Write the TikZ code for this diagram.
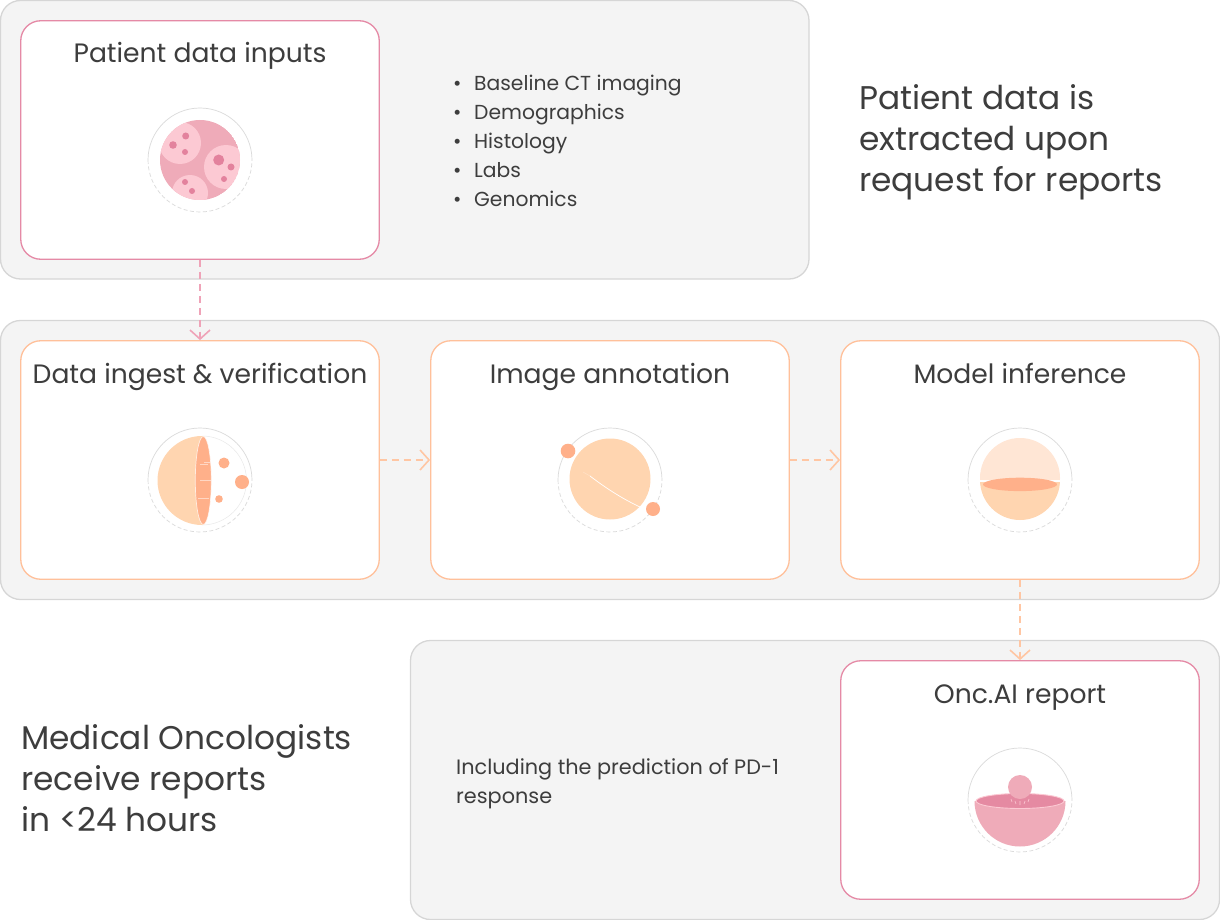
\documentclass[tikz,border=0pt]{standalone}
\usepackage{fontspec}
\setmainfont{Poppins}
\usetikzlibrary{arrows.meta}
\definecolor{panelfill}{HTML}{F4F4F4}
\definecolor{panelline}{HTML}{D6D6D6}
\definecolor{pinkline}{HTML}{E58AA6}
\definecolor{orangeline}{HTML}{FFC09A}
\definecolor{pinkarrow}{HTML}{EFA3B8}
\definecolor{orangearrow}{HTML}{FFC6A3}
\definecolor{ink}{HTML}{3D3D3D}
\definecolor{pinkmid}{HTML}{EFABB9}
\definecolor{pinklight}{HTML}{FCC9D3}
\definecolor{pinkdark}{HTML}{DF7594}
\definecolor{pinkrim}{HTML}{E58AA2}
\definecolor{orangepale}{HTML}{FFE6D5}
\definecolor{orangemid}{HTML}{FFD5B0}
\definecolor{orangedark}{HTML}{FFB08A}
\definecolor{ringline}{HTML}{DADADA}
\tikzset{
  x=1pt,y=-1pt,
  panel/.style={draw=panelline,fill=panelfill,line width=1.3pt,rounded corners=20pt},
  card/.style={draw,fill=white,line width=1.3pt,rounded corners=20pt,minimum width=358.5pt,minimum height=238.5pt,inner sep=0pt},
  pinkcard/.style={card,draw=pinkline},
  orangecard/.style={card,draw=orangeline},
  title/.style={text=ink,font=\fontsize{26.6}{30}\selectfont,inner sep=0pt,anchor=base},
  lead/.style={text=ink,font=\fontsize{32.8}{41}\selectfont,inner sep=0pt,anchor=north west,align=left},
  body/.style={text=ink,font=\fontsize{20.3}{29}\selectfont,inner sep=0pt,anchor=north west,align=left},
  bodywide/.style={body,font=\fontsize{20.8}{29}\selectfont},
  flow/.style={line width=1.5pt,dash pattern=on 7pt off 5pt,-{Straight Barb[length=9pt,width=20pt,line width=1.6pt]}},
}
\newcommand{\ringicon}[2]{%
  \fill[white] (#1,#2) circle[radius=52pt];
  \draw[ringline,line width=.7pt] (#1-52,#2) arc[start angle=180,end angle=0,radius=52pt];
  \draw[ringline,line width=.7pt,dash pattern=on 4pt off 2.5pt] (#1-52,#2) arc[start angle=180,end angle=360,radius=52pt];
}
\begin{document}
\begin{tikzpicture}
\useasboundingbox (0,0) rectangle (1220,920);
% panels
\draw[panel] (0.5,0.5) rectangle (809,279);
\draw[panel] (0.5,320.5) rectangle (1219.5,599.5);
\draw[panel] (410.5,640.5) rectangle (1219.5,919.5);
% cards
\node[pinkcard] (inputs) at (200,140) {};
\node[orangecard] (ingest) at (200,460) {};
\node[orangecard] (annot) at (610,460) {};
\node[orangecard] (infer) at (1020,460) {};
\node[pinkcard] (report) at (1020,780) {};
% connectors
\draw[flow,pinkarrow] (inputs.south) -- (ingest.north);
\draw[flow,orangearrow] (ingest.east) -- (annot.west);
\draw[flow,orangearrow] (annot.east) -- (infer.west);
\draw[flow,orangearrow] (infer.south) -- (report.north);
% titles
\node[title] (t1) at (200,63) {Patient data inputs};
\node[title] (t2) at (200,383) {Data ingest \& verification};
\node[title] (t3) at (610,383) {Image annotation};
\node[title] (t4) at (1020,383) {Model inference};
\node[title] (t5) at (1020,703) {Onc.AI report};
% texts
\node[body] (list) at (453,75) {\makebox[21pt][l]{•}Baseline CT imaging\\\makebox[21pt][l]{•}Demographics\\\makebox[21pt][l]{•}Histology\\\makebox[21pt][l]{•}Labs\\\makebox[21pt][l]{•}Genomics};
\node[bodywide] (incl) at (456,758) {Including the prediction of PD-1\\response};
\node[lead] (lead1) at (859,84) {Patient data is\\extracted upon\\request for reports};
\node[lead] (lead2) at (21,724) {Medical Oncologists\\receive reports\\in <24 hours};
% icon 1
\ringicon{200}{160}
\begin{scope}
  \clip (200,160) circle[radius=40pt];
  \fill[pinkmid] (200,160) circle[radius=40pt];
  \fill[pinklight] (180,143) circle[radius=21pt];
  \fill[pinklight] (226,167) circle[radius=22pt];
  \fill[pinklight] (190,193) circle[radius=18pt];
\end{scope}
\fill[pinkdark!85!pinklight] (185.7,136) circle[radius=3.5pt] (173,145) circle[radius=3.8pt] (185,152) circle[radius=3pt]
  (218.7,160) circle[radius=5.5pt] (231,167) circle[radius=3.5pt] (224,179) circle[radius=3pt]
  (185,182) circle[radius=3pt] (192,191) circle[radius=3pt];
% icon 2
\ringicon{200}{480}
\draw[ringline!60,line width=.5pt] (202,436) arc[start angle=90,end angle=-90,radius=44.5pt];
\begin{scope}
  \clip (100,420) rectangle (204,540);
  \fill[orangemid] (202,480.5) circle[radius=44.5pt];
\end{scope}
\fill[orangedark] (203.3,480.5) ellipse[x radius=8pt,y radius=44pt];
\draw[white,line width=.7pt,opacity=.7] (203.3,480.5) ellipse[x radius=8pt,y radius=44pt];
\draw[white,line width=.4pt,opacity=.5] (204,462)--(210,462) (200,464)--(208,464) (200,480)--(211,480) (198,498)--(209,498);
\fill[orangedark] (224,463) circle[radius=5.5pt] (242,482) circle[radius=7pt] (219,499) circle[radius=3.8pt];
% icon 3
\ringicon{610}{480}
\fill[orangemid] (610,479) circle[radius=40.5pt];
\draw[white,line width=.5pt,opacity=.3] (583,472) -- (590,476);
\draw[white,line width=.7pt] (590,476) .. controls (607,489) and (623,499) .. (640,507);
\fill[orangedark] (568,451) circle[radius=7.3pt] (653,509) circle[radius=7pt];
% icon 4
\ringicon{1020}{480}
\begin{scope}
  \clip (960,420) rectangle (1080,479.5);
  \fill[orangepale] (1020,478) circle[radius=40pt];
\end{scope}
\begin{scope}
  \clip (960,482.5) rectangle (1080,540);
  \fill[orangemid] (1020,480) circle[radius=40pt];
\end{scope}
\fill[orangedark] (1020,484.4) ellipse[x radius=37pt,y radius=6.7pt];
% icon 5
\ringicon{1020}{800}
\begin{scope}
  \clip (960,801) rectangle (1080,860);
  \fill[pinkmid] (1020,801) circle[radius=45.5pt];
\end{scope}
\fill[pinkrim] (1020,801) ellipse[x radius=44pt,y radius=7.5pt];
\draw[pinklight,line width=.9pt] (1020,801) ellipse[x radius=44pt,y radius=7.5pt];
\fill[pinkmid] (1020,787) circle[radius=12pt];
\draw[pinklight,line width=.6pt] (1011,799)--(1012,802) (1015,801)--(1016,804) (1020,801)--(1020,805) (1025,801)--(1024,804) (1029,799)--(1028,802);
\end{tikzpicture}
\end{document}
